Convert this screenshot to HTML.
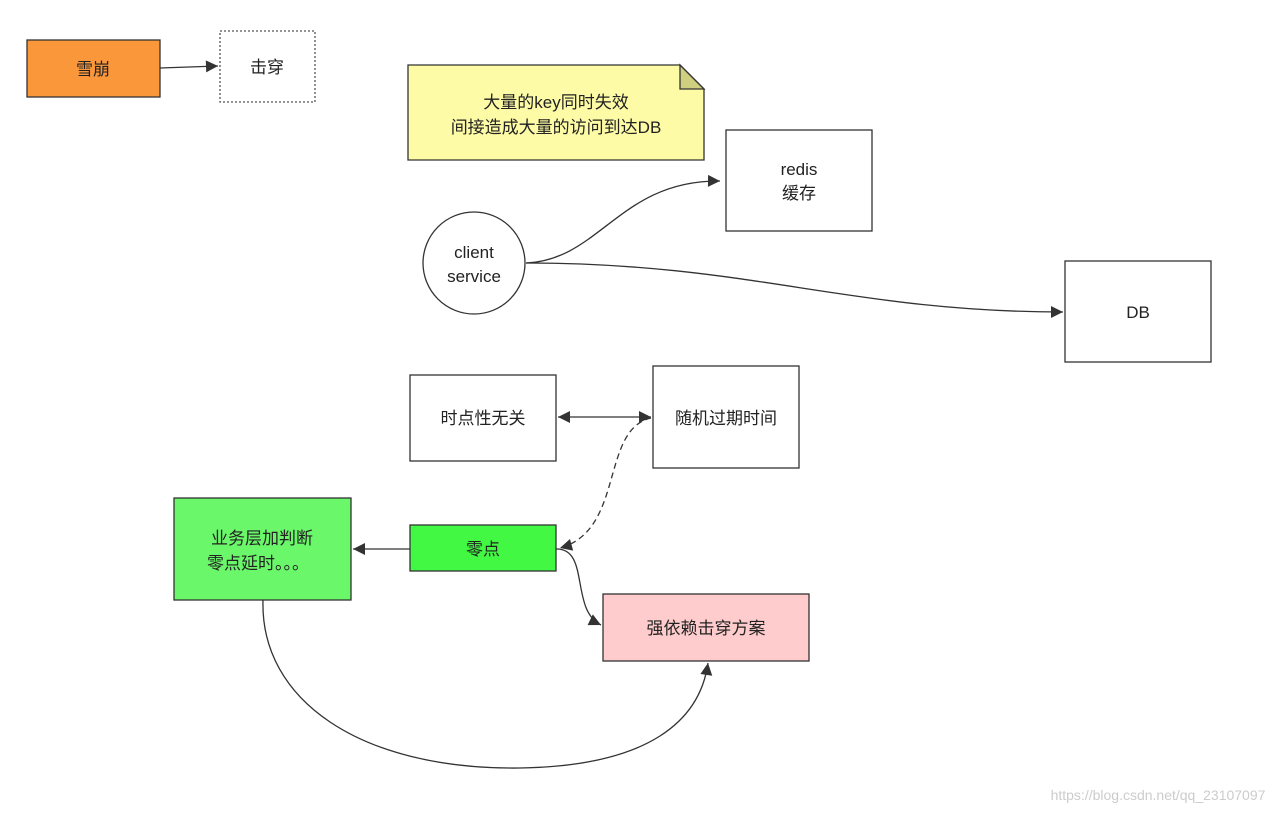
<!DOCTYPE html>
<html><head><meta charset="utf-8"><style>
body{margin:0;background:#fff;width:1288px;height:813px;overflow:hidden;font-family:"Liberation Sans","Noto Sans CJK SC",sans-serif;}
svg text{font-family:"Liberation Sans","Noto Sans CJK SC",sans-serif;font-size:17px;fill:#222;text-anchor:middle;}
</style></head><body>
<svg width="1288" height="813" viewBox="0 0 1288 813">
<defs><marker id="a" viewBox="0 0 10 10" refX="10" refY="5" markerWidth="18" markerHeight="12" markerUnits="userSpaceOnUse" orient="auto-start-reverse"><path d="M0,0L10,5L0,10z" fill="#333"/></marker></defs>
<g stroke="#333" stroke-width="1.3" fill="none">
<rect x="27" y="40" width="133" height="57" fill="#fb973b"/>
<rect x="220" y="31" width="95" height="71" stroke-dasharray="2,2" stroke="#555"/>
<path d="M408,65 H680 L704,89 V160 H408Z" fill="#fdfba5"/>
<path d="M680,65 V89 H704Z" fill="#cfcf80"/>
<rect x="726" y="130" width="146" height="101" fill="#fff"/>
<circle cx="474" cy="263" r="51" fill="#fff"/>
<rect x="1065" y="261" width="146" height="101" fill="#fff"/>
<rect x="410" y="375" width="146" height="86" fill="#fff"/>
<rect x="653" y="366" width="146" height="102" fill="#fff"/>
<rect x="174" y="498" width="177" height="102" fill="#6af86a"/>
<rect x="410" y="525" width="146" height="46" fill="#42f842"/>
<rect x="603" y="594" width="206" height="67" fill="#fecccc"/>
<path d="M160,68 L218,66" marker-end="url(#a)"/>
<path d="M526,263 C600,260 620,180 720,181" marker-end="url(#a)"/>
<path d="M526,263 C750,263 850,312 1063,312" marker-end="url(#a)"/>
<path d="M558,417 H651" marker-start="url(#a)" marker-end="url(#a)"/>
<path d="M651,418 C600,430 625,530 560,548" stroke-dasharray="6,4" marker-end="url(#a)"/>
<path d="M410,549 H353" marker-end="url(#a)"/>
<path d="M556,549 C590,548 570,610 601,625" marker-end="url(#a)"/>
<path d="M263,600 C260,700 360,770 520,768 C650,766 700,720 708,663" marker-end="url(#a)"/>
</g>
<text x="93" y="75">雪崩</text>
<text x="267" y="73">击穿</text>
<text x="556" y="108">大量的key同时失效</text>
<text x="556" y="133">间接造成大量的访问到达DB</text>
<text x="799" y="175">redis</text>
<text x="799" y="199">缓存</text>
<text x="474" y="258">client</text>
<text x="474" y="282">service</text>
<text x="1138" y="318">DB</text>
<text x="483" y="424">时点性无关</text>
<text x="726" y="424">随机过期时间</text>
<text x="262" y="544">业务层加判断</text>
<text x="258" y="569">零点延时。。。</text>
<text x="483" y="555">零点</text>
<text x="706" y="634">强依赖击穿方案</text>
<text x="1158" y="800" style="font-size:14px;fill:#ccc">https://blog.csdn.net/qq_23107097</text>
</svg>
</body></html>
